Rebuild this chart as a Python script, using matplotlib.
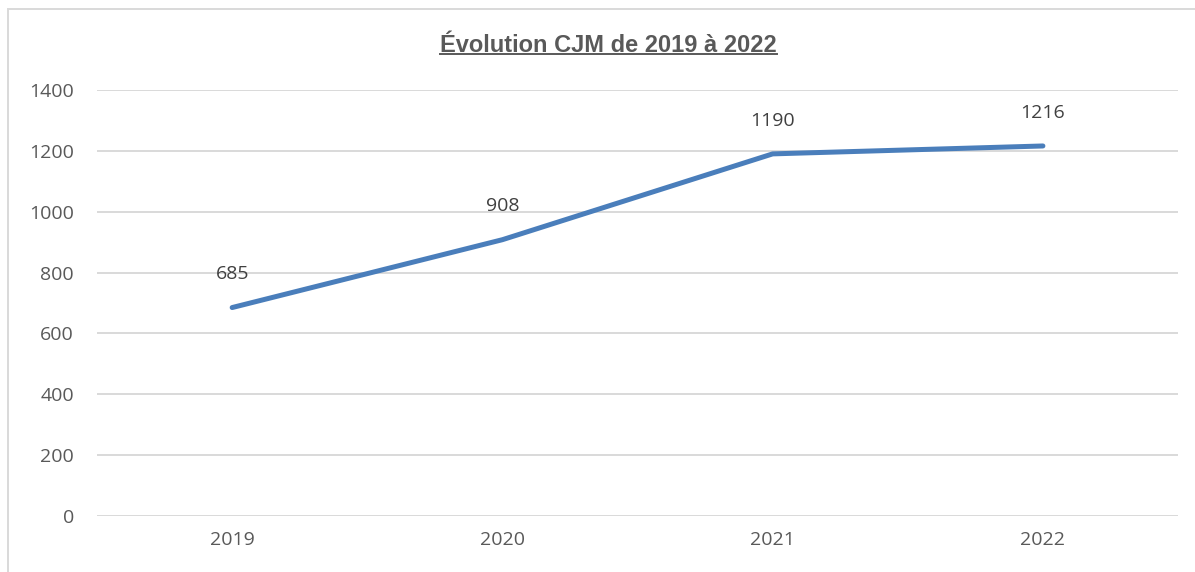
import matplotlib.pyplot as plt
from matplotlib.lines import Line2D
from matplotlib.patches import Rectangle

# Données
annees = ['2019', '2020', '2021', '2022']
cjm = [685, 908, 1190, 1216]
graduations = [0, 200, 400, 600, 800, 1000, 1200, 1400]

gris = '#595959'
bleu = '#4a7ebb'

fig = plt.figure(figsize=(11.95, 5.72), dpi=100)
ax = fig.add_axes([0.0812, 0.0979, 0.9046, 0.7448])

x = range(len(annees))
ax.plot(x, cjm, color=bleu, linewidth=3.6, solid_capstyle='round')

# Étiquettes de données
for i, v in zip(x, cjm):
    ax.annotate(str(v), (i, v), xytext=(0, 24), textcoords='offset points',
                ha='center', va='center', fontsize=14, color='#404040', family='Open Sans')

ax.set_xlim(-0.5, len(annees) - 0.5)
ax.set_ylim(0, 1400)
ax.set_xticks(list(x))
ax.set_xticklabels(annees)
ax.set_yticks(graduations)
ax.grid(axis='y', color='#d9d9d9', linewidth=1.4)
ax.set_axisbelow(True)
for s in ax.spines.values():
    s.set_visible(False)
ax.tick_params(length=0, labelsize=14, labelcolor=gris)
ax.tick_params(axis='y', pad=16.5)
ax.tick_params(axis='x', pad=11)
for lab in ax.get_xticklabels() + ax.get_yticklabels():
    lab.set_family('Open Sans')

# Titre souligné
titre = fig.text(0.509, 0.921, 'Évolution CJM de 2019 à 2022', ha='center', va='center',
                 fontsize=17, fontweight='bold', color=gris, family='Liberation Sans')
fig.canvas.draw()
bb = titre.get_window_extent().transformed(fig.transFigure.inverted())
fig.add_artist(Line2D([bb.x0, bb.x1], [bb.y0 + 0.004, bb.y0 + 0.004], color=gris, linewidth=1.4,
                      transform=fig.transFigure))

# Cadre du graphique
fig.add_artist(Rectangle((8 / 1195, -0.1), 1.2, 1 - 9 / 572 + 0.1, transform=fig.transFigure,
                         fill=False, edgecolor='#d9d9d9', linewidth=1.4))

fig.savefig('out.png', dpi=100)
